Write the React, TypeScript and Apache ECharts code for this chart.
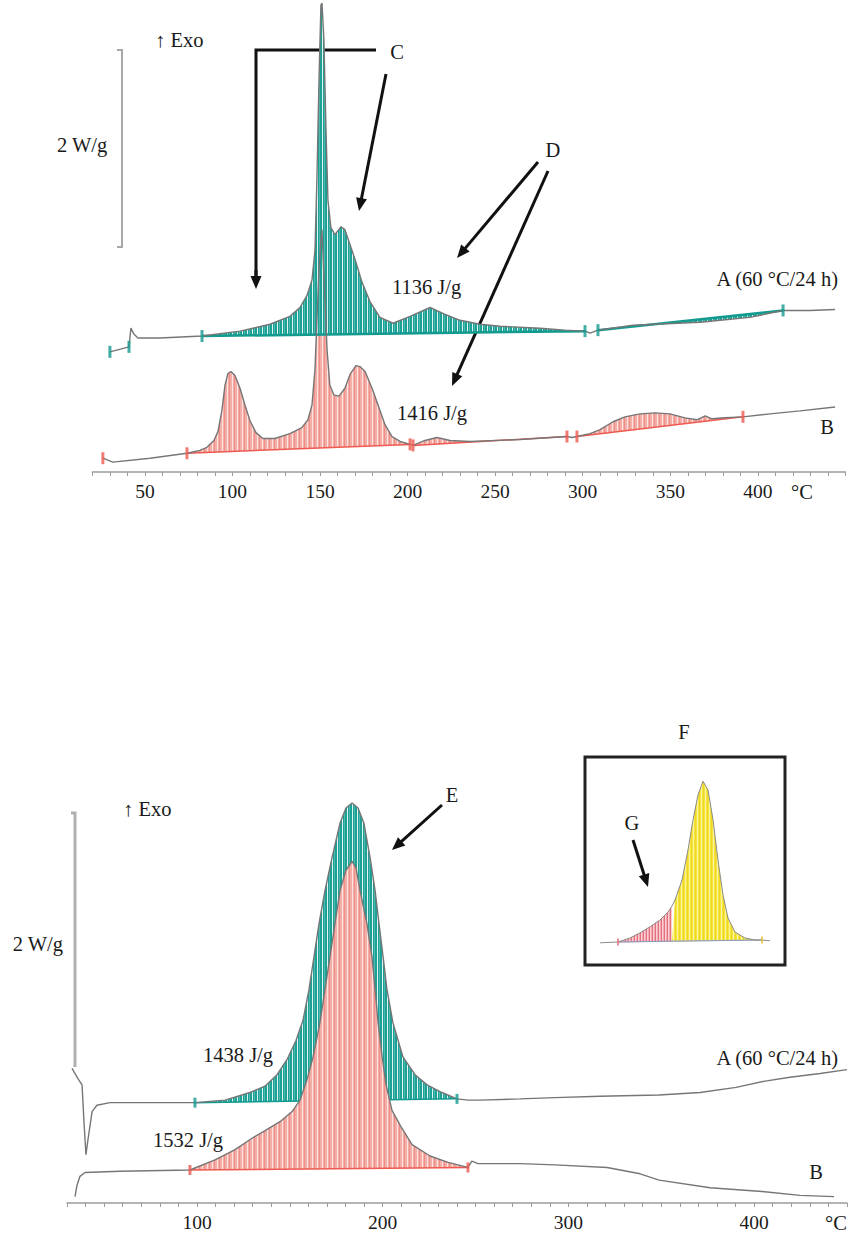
import React, { useEffect, useRef } from "react";
import * as echarts from "echarts";

// ===== Top panel: DSC curves (x: temperature °C, y: heat flow W/g, offset) =====
const topXTicks = [50, 100, 150, 200, 250, 300, 350, 400];
// Curve A (60 °C/24 h)
const topA_lead = [[30.0, 1.26], [40.9, 1.31], [42.0, 1.5], [43.7, 1.44], [46.0, 1.4], [58.6, 1.4]];
const topA_fill1 = [
  [82.6, 1.42], [104.3, 1.47], [121.4, 1.54], [132.8, 1.62], [138.5, 1.71], [142.5, 1.83],
  [145.4, 1.99], [147.1, 2.29], [148.2, 3.01], [149.4, 4.02], [150.5, 4.78], [151.1, 4.8],
  [152.2, 4.43], [153.4, 3.51], [154.5, 2.8], [156.2, 2.52], [158.5, 2.45], [162.0, 2.53],
  [164.2, 2.5], [167.1, 2.35], [170.5, 2.17], [173.9, 1.97], [178.5, 1.77], [184.2, 1.61],
  [191.7, 1.55], [201.4, 1.62], [212.8, 1.71], [221.4, 1.64], [230.0, 1.58], [241.3, 1.54],
  [252.8, 1.52], [275.6, 1.5], [289.9, 1.48], [301.3, 1.47],
];
const topA_gap = [[304.2, 1.45]];
const topA_fill2 = [[308.7, 1.48], [328.7, 1.53], [367.0, 1.56], [395.5, 1.61], [414.4, 1.68]];
const topA_tail = [[429.8, 1.68], [444.1, 1.69]];
const topA_marks = [[30.0, 1.26], [40.9, 1.31], [82.6, 1.42], [301.3, 1.47], [308.7, 1.48], [414.4, 1.68]];
// Curve B
const topB_lead = [[26.0, 0.18], [31.7, 0.14], [52.9, 0.18]];
const topB_fill1 = [
  [74.0, 0.23], [81.4, 0.26], [85.4, 0.29], [89.4, 0.36], [91.7, 0.45], [94.0, 0.67],
  [95.7, 0.92], [97.4, 1.04], [99.1, 1.06], [101.4, 1.02], [104.3, 0.89], [107.1, 0.72],
  [110.0, 0.56], [113.4, 0.44], [117.4, 0.38], [124.2, 0.38], [132.8, 0.43], [139.6, 0.49],
  [143.1, 0.57], [145.4, 0.72], [147.1, 1.08], [148.2, 1.58], [149.4, 2.09], [150.5, 2.4],
  [151.1, 2.5], [152.8, 1.79], [154.0, 1.28], [155.6, 0.92], [158.0, 0.82], [160.8, 0.81],
  [164.2, 0.89], [167.1, 1.03], [170.5, 1.12], [172.8, 1.11], [175.7, 1.06], [179.7, 0.89],
  [183.1, 0.72], [187.1, 0.52], [191.1, 0.4], [195.7, 0.35], [201.4, 0.32],
];
const topB_fill2 = [[203.1, 0.31], [209.9, 0.36], [216.8, 0.39], [224.2, 0.36], [235.6, 0.35], [264.2, 0.37], [291.0, 0.4]];
const topB_gap = [[293.9, 0.39]];
const topB_fill3 = [
  [296.7, 0.4], [304.2, 0.43], [309.9, 0.47], [317.3, 0.55], [324.1, 0.6], [332.7, 0.63],
  [341.3, 0.64], [349.8, 0.63], [358.4, 0.59], [365.3, 0.57], [369.9, 0.61], [373.8, 0.58],
  [381.2, 0.59], [391.5, 0.6],
];
const topB_tail = [[407.0, 0.63], [424.1, 0.66], [444.1, 0.7]];
const topB_marks = [[26.0, 0.18], [74.0, 0.23], [201.4, 0.32], [203.1, 0.31], [291.0, 0.4], [296.7, 0.4], [391.5, 0.6]];

// ===== Bottom panel =====
const botXTicks = [100, 200, 300, 400];
const botA_lead = [[32.7, 1.06], [35.9, 0.98], [38.1, 0.93], [39.1, 0.65], [40.2, 0.38], [41.3, 0.5], [43.5, 0.72], [46.1, 0.77], [53.1, 0.79], [74.7, 0.79]];
const botA_fill = [
  [98.9, 0.79], [115.1, 0.81], [128.5, 0.87], [136.6, 0.92], [143.1, 1.01], [148.5, 1.13],
  [153.3, 1.28], [157.1, 1.44], [160.3, 1.68], [163.0, 1.94], [165.7, 2.2], [168.9, 2.46],
  [172.7, 2.72], [177.0, 2.99], [180.2, 3.11], [183.5, 3.15], [186.7, 3.11], [189.9, 2.99],
  [193.2, 2.72], [195.9, 2.46], [198.0, 2.2], [200.2, 1.94], [202.3, 1.68], [205.5, 1.42],
  [210.9, 1.15], [217.4, 1.01], [223.9, 0.93], [231.9, 0.87], [240.0, 0.82],
];
const botA_tail = [[246.0, 0.81], [252.4, 0.81], [273.9, 0.82], [292.8, 0.83], [317.0, 0.84], [348.8, 0.85], [370.9, 0.87], [390.3, 0.91], [405.9, 0.96], [419.3, 0.99], [435.5, 1.02], [450.0, 1.05]];
const botA_marks = [[98.9, 0.79], [240.0, 0.82]];
const botB_lead = [[34.3, 0.05], [35.4, 0.14], [37.0, 0.21], [39.7, 0.24], [58.5, 0.25]];
const botB_fill = [
  [96.2, 0.26], [109.7, 0.34], [120.5, 0.42], [129.6, 0.51], [136.6, 0.57], [144.7, 0.64],
  [151.2, 0.72], [155.5, 0.81], [159.2, 0.97], [162.5, 1.15], [166.2, 1.42], [168.9, 1.68],
  [171.6, 1.94], [174.3, 2.2], [177.0, 2.46], [180.2, 2.62], [183.5, 2.69], [185.6, 2.64],
  [187.8, 2.46], [191.5, 2.2], [194.2, 1.94], [195.9, 1.68], [197.5, 1.42], [199.7, 1.15],
  [201.8, 0.93], [205.0, 0.73], [209.9, 0.6], [215.8, 0.46], [225.5, 0.37], [235.2, 0.32], [245.9, 0.28],
];
const botB_tail = [[248.0, 0.33], [251.3, 0.31], [273.9, 0.31], [292.8, 0.3], [320.8, 0.28], [338.6, 0.23], [348.8, 0.18], [376.3, 0.12], [404.3, 0.09], [424.7, 0.06], [443.0, 0.05]];
const botB_marks = [[96.2, 0.26], [245.9, 0.28]];

// ===== Inset F =====
const inset_lead = [[60, 0.18]];
const inset_G = [[81.2, 0.2], [95.3, 0.3], [107.1, 0.43], [118.8, 0.58], [130.6, 0.75], [140.0, 0.95], [144.7, 1.1]];
const inset_main = [[148.2, 1.25], [156.5, 1.75], [163.5, 2.5], [169.4, 3.25], [175.3, 3.88], [181.2, 4.22], [187.1, 4.0], [193.0, 3.25], [198.8, 2.25], [204.7, 1.38], [210.6, 0.8], [218.8, 0.45], [230.6, 0.3], [242.4, 0.25], [250.6, 0.25]];
const inset_tail = [[260, 0.23]];
const inset_base = [[81.2, 0.2], [144.7, 0.22], [250.6, 0.25]];

const FONT = "'Liberation Serif', 'Times New Roman', 'DejaVu Serif', serif";
const INK = "#1a1a1a";
const CURVE = "#767676";

function stripe(colors: string[]) {
  const c = document.createElement("canvas");
  c.width = colors.length;
  c.height = 2;
  const ctx = c.getContext("2d")!;
  colors.forEach((col, i) => {
    ctx.fillStyle = col;
    ctx.fillRect(i, 0, 1, 2);
  });
  return { image: c.toDataURL(), repeat: "repeat", imageWidth: colors.length, imageHeight: 2 };
}

function fillSeries(pts: number[][], base: number[][] | null, gi: number, pattern: any, edge: string, edgeW: number, z: number) {
  return {
    type: "custom",
    xAxisIndex: gi,
    yAxisIndex: gi,
    z,
    silent: true,
    clip: true,
    data: pts,
    renderItem: (params: any, api: any) => {
      if (params.dataIndex !== 0) return null;
      const all = pts.concat(base ? base.slice().reverse() : []);
      const poly = all.map((p) => api.coord(p));
      const b0 = base ? base[0] : pts[0];
      const b1 = base ? base[base.length - 1] : pts[pts.length - 1];
      const p0 = api.coord(b0);
      const p1 = api.coord(b1);
      return {
        type: "group",
        children: [
          { type: "polygon", shape: { points: poly }, style: { fill: pattern, stroke: null } },
          { type: "line", shape: { x1: p0[0], y1: p0[1], x2: p1[0], y2: p1[1] }, style: { stroke: edge, lineWidth: edgeW } },
        ],
      };
    },
  };
}

function lineSeries(data: number[][], gi: number, color = CURVE, width = 1.4) {
  return {
    type: "line",
    xAxisIndex: gi,
    yAxisIndex: gi,
    data,
    showSymbol: false,
    silent: true,
    z: 6,
    lineStyle: { color, width },
  };
}

function markSeries(data: number[][], gi: number, color: string, size: number[] = [3, 12]) {
  return {
    type: "scatter",
    xAxisIndex: gi,
    yAxisIndex: gi,
    data,
    symbol: "rect",
    symbolSize: size,
    silent: true,
    z: 7,
    itemStyle: { color },
  };
}

function arrow(x1: number, y1: number, x2: number, y2: number, w = 3, color = "#111") {
  const dx = x2 - x1, dy = y2 - y1;
  const L = Math.hypot(dx, dy);
  const ux = dx / L, uy = dy / L;
  const hl = 13, hw = 5.5;
  const bx = x2 - ux * hl, by = y2 - uy * hl;
  return [
    { type: "line", shape: { x1, y1, x2: bx + ux * 2, y2: by + uy * 2 }, style: { stroke: color, lineWidth: w } },
    { type: "polygon", shape: { points: [[x2, y2], [bx - uy * hw, by + ux * hw], [bx + uy * hw, by - ux * hw]] }, style: { fill: color } },
  ];
}

function txt(text: string, x: number, y: number, align = "left", size = 20.5) {
  return {
    type: "text",
    x,
    y,
    z: 20,
    style: { text, fontFamily: FONT, fontSize: size, fill: INK, textAlign: align, textVerticalAlign: "middle" },
  };
}

export default function App() {
  const ref = useRef<HTMLDivElement>(null);
  useEffect(() => {
    document.body.style.margin = "0";
    if (!ref.current) return;
    const chart = echarts.init(ref.current, null, { renderer: "svg" });

    const teal = stripe(["#1ba196", "#1ba196", "#e3f4f2", "#1ba196", "#4fb8af"]);
    const pink = stripe(["#f4aea8", "#f4aea8", "#fde4e1", "#f4aea8", "#ef8f88"]);
    const yellow = stripe(["#f6e83a", "#fbf3a2", "#f6e83a", "#f0d22c"]);
    const gpink = stripe(["#f3a9b2", "#e4707e", "#f8d0d6"]);

    const topA = [...topA_lead, ...topA_fill1, ...topA_gap, ...topA_fill2, ...topA_tail];
    const topB = [...topB_lead, ...topB_fill1, ...topB_fill2, ...topB_gap, ...topB_fill3, ...topB_tail];
    const botA = [...botA_lead, ...botA_fill, ...botA_tail];
    const botB = [...botB_lead, ...botB_fill, ...botB_tail];
    const inset = [...inset_lead, ...inset_G, ...inset_main, ...inset_tail];

    const axisCommon = (ticks: number[]) => ({
      type: "value",
      interval: 10,
      axisLine: { show: true, onZero: false, lineStyle: { color: "#9c9c9c", width: 1.5 } },
      axisTick: { show: true, length: 4, lineStyle: { color: "#9c9c9c", width: 1 } },
      splitLine: { show: false },
      axisLabel: {
        margin: 9,
        fontFamily: FONT,
        fontSize: 19.5,
        color: INK,
        formatter: (v: number) => (ticks.indexOf(v) >= 0 ? String(v) : ""),
      },
    });

    const graphics: any[] = [
      // top panel annotations
      txt("\u2191 Exo", 155, 40),
      txt("2 W/g", 57, 145),
      { type: "polyline", shape: { points: [[117, 50], [122, 50], [122, 247], [117, 247]] }, style: { stroke: "#a8a8a8", lineWidth: 2, fill: null } },
      txt("C", 397, 52, "center"),
      { type: "polyline", shape: { points: [[376, 50], [256, 50], [256, 278]] }, style: { stroke: "#111", lineWidth: 3, fill: null } },
      ...arrow(256, 270, 256, 289),
      ...arrow(386, 74, 359, 211),
      txt("D", 553, 150, "center"),
      ...arrow(538, 162, 457, 258),
      ...arrow(548, 171, 452, 386),
      txt("1136 J/g", 392, 287),
      txt("1416 J/g", 397, 413),
      txt("A (60 \u00B0C/24 h)", 838, 279, "right"),
      txt("B", 827, 427, "center"),
      txt("\u00B0C", 802, 492, "center"),
      // bottom panel annotations
      txt("\u2191 Exo", 123, 809),
      txt("2 W/g", 63, 944, "right"),
      { type: "polyline", shape: { points: [[71, 813], [75, 813], [75, 1067]] }, style: { stroke: "#b0b0b0", lineWidth: 3, fill: null } },
      txt("E", 452, 795, "center"),
      ...arrow(442, 805, 392, 850),
      txt("F", 684, 732, "center"),
      { type: "rect", shape: { x: 585, y: 757, width: 200, height: 208 }, style: { stroke: "#222", lineWidth: 3, fill: null }, z: 1 },
      txt("G", 632, 823, "center"),
      ...arrow(633, 840, 648, 887),
      txt("1438 J/g", 203, 1055),
      txt("1532 J/g", 153, 1140),
      txt("A (60 \u00B0C/24 h)", 838, 1058, "right"),
      txt("B", 816, 1172, "center"),
      txt("\u00B0C", 836, 1223, "center"),
    ];

    const option: any = {
      animation: false,
      backgroundColor: "#ffffff",
      textStyle: { fontFamily: FONT },
      grid: [
        { left: 92.4, width: 753, top: 3.1, height: 468.9, outerBoundsMode: "none" },
        { left: 67, width: 780, top: 695, height: 508, outerBoundsMode: "none" },
        { left: 600, width: 170, top: 770, height: 180, outerBoundsMode: "none" },
      ],
      xAxis: [
        { ...axisCommon(topXTicks), gridIndex: 0, min: 20, max: 450 },
        { ...axisCommon(botXTicks), gridIndex: 1, min: 30, max: 450 },
        { type: "value", gridIndex: 2, min: 60, max: 260, show: false },
      ],
      yAxis: [
        { type: "value", gridIndex: 0, min: 0.04, max: 4.8, show: false },
        { type: "value", gridIndex: 1, min: 0, max: 4, show: false },
        { type: "value", gridIndex: 2, min: 0, max: 4.5, show: false },
      ],
      series: [
        // top: B fills under A fills
        fillSeries(topB_fill1, null, 0, pink, "#ee5a50", 1.5, 1),
        fillSeries(topB_fill2, null, 0, pink, "#ee5a50", 1.5, 1),
        fillSeries(topB_fill3, null, 0, pink, "#ee5a50", 1.5, 1),
        fillSeries(topA_fill1, null, 0, teal, "#139a8f", 2.5, 2),
        fillSeries(topA_fill2, null, 0, teal, "#139a8f", 2.5, 2),
        lineSeries(topB, 0),
        lineSeries(topA, 0),
        markSeries(topA_marks, 0, "#139a8f"),
        markSeries(topB_marks, 0, "#ee5a50"),
        // bottom: A fill under B fill
        fillSeries(botA_fill, null, 1, teal, "#139a8f", 1.5, 1),
        fillSeries(botB_fill, null, 1, pink, "#ee5a50", 1.5, 2),
        lineSeries(botA, 1),
        lineSeries(botB, 1),
        markSeries(botA_marks, 1, "#139a8f", [3, 10]),
        markSeries(botB_marks, 1, "#ee5a50", [3, 10]),
        // inset
        fillSeries(inset_main.slice(), [[144.7, 0.22], [250.6, 0.25]], 2, yellow, "#c9c9a0", 1, 1),
        fillSeries([[144.7, 0.22], ...inset_G.slice().reverse()].reverse(), null, 2, gpink, "#d9a0a8", 1, 2),
        lineSeries(inset_base, 2, "#8a9bbd", 1),
        lineSeries(inset, 2, "#8a8a8a", 1),
        markSeries([[81.2, 0.2]], 2, "#e77080", [2, 7]),
        markSeries([[250.6, 0.25]], 2, "#e0c040", [2, 7]),
      ],
      graphic: { elements: graphics },
    };
    chart.setOption(option);
    return () => chart.dispose();
  }, []);
  return <div ref={ref} style={{ width: 848, height: 1235 }} />;
}
